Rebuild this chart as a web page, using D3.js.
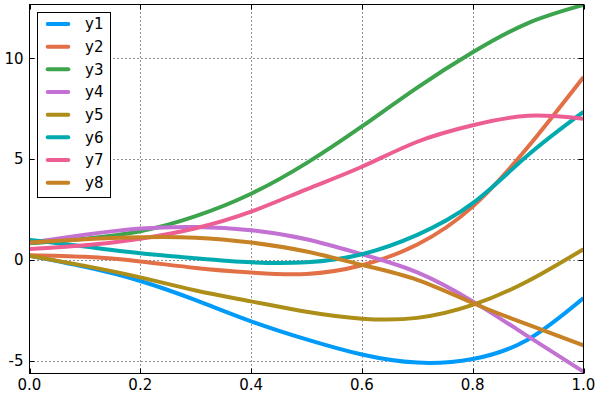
<!DOCTYPE html>
<html>
<head>
<meta charset="utf-8">
<script src="https://cdn.jsdelivr.net/npm/d3@7"></script>
<style>
  body { margin: 0; background: #fff; }
  text { font-family: 'DejaVu Sans', sans-serif; }
</style>
</head>
<body>
<div id="chart"></div>
<script>
const xs = [0, 0.1, 0.2, 0.3, 0.4, 0.5, 0.6, 0.7, 0.8, 0.9, 1.0];
const names = ['y1', 'y2', 'y3', 'y4', 'y5', 'y6', 'y7', 'y8'];
const y1 = [0.2, -0.35, -1.05, -2.0, -3.05, -3.95, -4.7, -5.1, -4.92, -3.95, -1.9];
const y2 = [0.23, 0.15, -0.08, -0.4, -0.63, -0.7, -0.27, 0.76, 2.64, 5.61, 9.07];
const y3 = [0.82, 1.05, 1.42, 2.17, 3.28, 4.8, 6.62, 8.55, 10.3, 11.75, 12.65];
const y4 = [0.85, 1.24, 1.55, 1.63, 1.47, 1.02, 0.28, -0.62, -2.06, -3.8, -5.55];
const y5 = [0.2, -0.3, -0.87, -1.52, -2.06, -2.58, -2.92, -2.88, -2.24, -1.05, 0.53];
const y6 = [0.99, 0.66, 0.33, 0.08, -0.12, -0.12, 0.28, 1.24, 2.81, 5.2, 7.34];
const y7 = [0.54, 0.72, 1.05, 1.57, 2.39, 3.5, 4.62, 5.86, 6.68, 7.15, 7.0];
const y8 = [0.86, 1.02, 1.12, 1.1, 0.86, 0.41, -0.25, -0.99, -2.14, -3.22, -4.24];
const series = [y1, y2, y3, y4, y5, y6, y7, y8];
const colors = ['#009af9', '#e26f46', '#3da44e', '#c371d2', '#ac8e18', '#00aaae', '#ed5e93', '#c68225'];
const xTicks = [0, 0.2, 0.4, 0.6, 0.8, 1.0];
const yTicks = [-5, 0, 5, 10];

const width = 600;
const height = 398;
const margin = { left: 29.5, top: 4.5, right: 16.5, bottom: 24.5 };
const yDomain = [-5.64, 12.67];

const xScale = d3.scaleLinear()
  .domain([0, 1])
  .range([margin.left, width - margin.right]);
const yScale = d3.scaleLinear()
  .domain(yDomain)
  .range([height - margin.bottom, margin.top]);

const svg = d3.select('#chart')
  .append('svg')
  .attr('width', width)
  .attr('height', height);

svg.append('defs').append('clipPath')
  .attr('id', 'clip')
  .append('rect')
  .attr('x', margin.left)
  .attr('y', margin.top)
  .attr('width', width - margin.left - margin.right)
  .attr('height', height - margin.top - margin.bottom);

// dotted grid
const grid = svg.append('g')
  .attr('stroke', '#222')
  .attr('stroke-width', 1)
  .attr('stroke-dasharray', '1,3');

grid.selectAll('.gx')
  .data(xTicks.slice(1, -1))
  .join('line')
  .attr('x1', d => Math.round(xScale(d)) + 0.5)
  .attr('x2', d => Math.round(xScale(d)) + 0.5)
  .attr('y1', margin.top)
  .attr('y2', height - margin.bottom);

grid.selectAll('.gy')
  .data(yTicks)
  .join('line')
  .attr('x1', margin.left)
  .attr('x2', width - margin.right)
  .attr('y1', d => Math.round(yScale(d)) + 0.5)
  .attr('y2', d => Math.round(yScale(d)) + 0.5);

// curves
const line = d3.line()
  .x((d, i) => xScale(xs[i]))
  .y(d => yScale(d))
  .curve(d3.curveNatural);

svg.append('g')
  .attr('clip-path', 'url(#clip)')
  .selectAll('path')
  .data(series)
  .join('path')
  .attr('fill', 'none')
  .attr('stroke', (d, i) => colors[i])
  .attr('stroke-width', 4)
  .attr('stroke-linejoin', 'round')
  .attr('d', line);

// frame and inward ticks
svg.append('rect')
  .attr('x', margin.left)
  .attr('y', margin.top)
  .attr('width', width - margin.left - margin.right)
  .attr('height', height - margin.top - margin.bottom)
  .attr('fill', 'none')
  .attr('stroke', '#000')
  .attr('stroke-width', 1);

const tickLen = 5;
const ticks = svg.append('g').attr('stroke', '#000');

xTicks.forEach(t => {
  const x = Math.round(xScale(t)) + 0.5;
  ticks.append('line').attr('x1', x).attr('x2', x)
    .attr('y1', height - margin.bottom).attr('y2', height - margin.bottom - tickLen);
  ticks.append('line').attr('x1', x).attr('x2', x)
    .attr('y1', margin.top).attr('y2', margin.top + tickLen);
});
yTicks.forEach(t => {
  const y = Math.round(yScale(t)) + 0.5;
  ticks.append('line').attr('y1', y).attr('y2', y)
    .attr('x1', margin.left).attr('x2', margin.left + tickLen);
  ticks.append('line').attr('y1', y).attr('y2', y)
    .attr('x1', width - margin.right).attr('x2', width - margin.right - tickLen);
});

svg.append('g')
  .selectAll('text')
  .data(xTicks)
  .join('text')
  .attr('x', d => xScale(d))
  .attr('y', height - margin.bottom + 16.5)
  .attr('text-anchor', 'middle')
  .style('font-size', '15px')
  .text(d => d.toFixed(1));

svg.append('g')
  .selectAll('text')
  .data(yTicks)
  .join('text')
  .attr('x', margin.left - 6)
  .attr('y', d => yScale(d))
  .attr('dy', '0.36em')
  .attr('text-anchor', 'end')
  .style('font-size', '15px')
  .text(d => d);

// legend
const legend = svg.append('g');
legend.append('rect')
  .attr('x', 37.5)
  .attr('y', 12.5)
  .attr('width', 73)
  .attr('height', 185)
  .attr('fill', '#fff')
  .attr('stroke', '#000');

const item = legend.selectAll('g')
  .data(names)
  .join('g')
  .attr('transform', (d, i) => `translate(0, ${24 + i * 22.67})`);

item.append('line')
  .attr('x1', 47.7)
  .attr('x2', 68.3)
  .attr('stroke', (d, i) => colors[i])
  .attr('stroke-width', 4)
  .attr('stroke-linecap', 'round');

item.append('text')
  .attr('x', 85)
  .attr('dy', '0.36em')
  .style('font-size', '15px')
  .text(d => d);
</script>
</body>
</html>
